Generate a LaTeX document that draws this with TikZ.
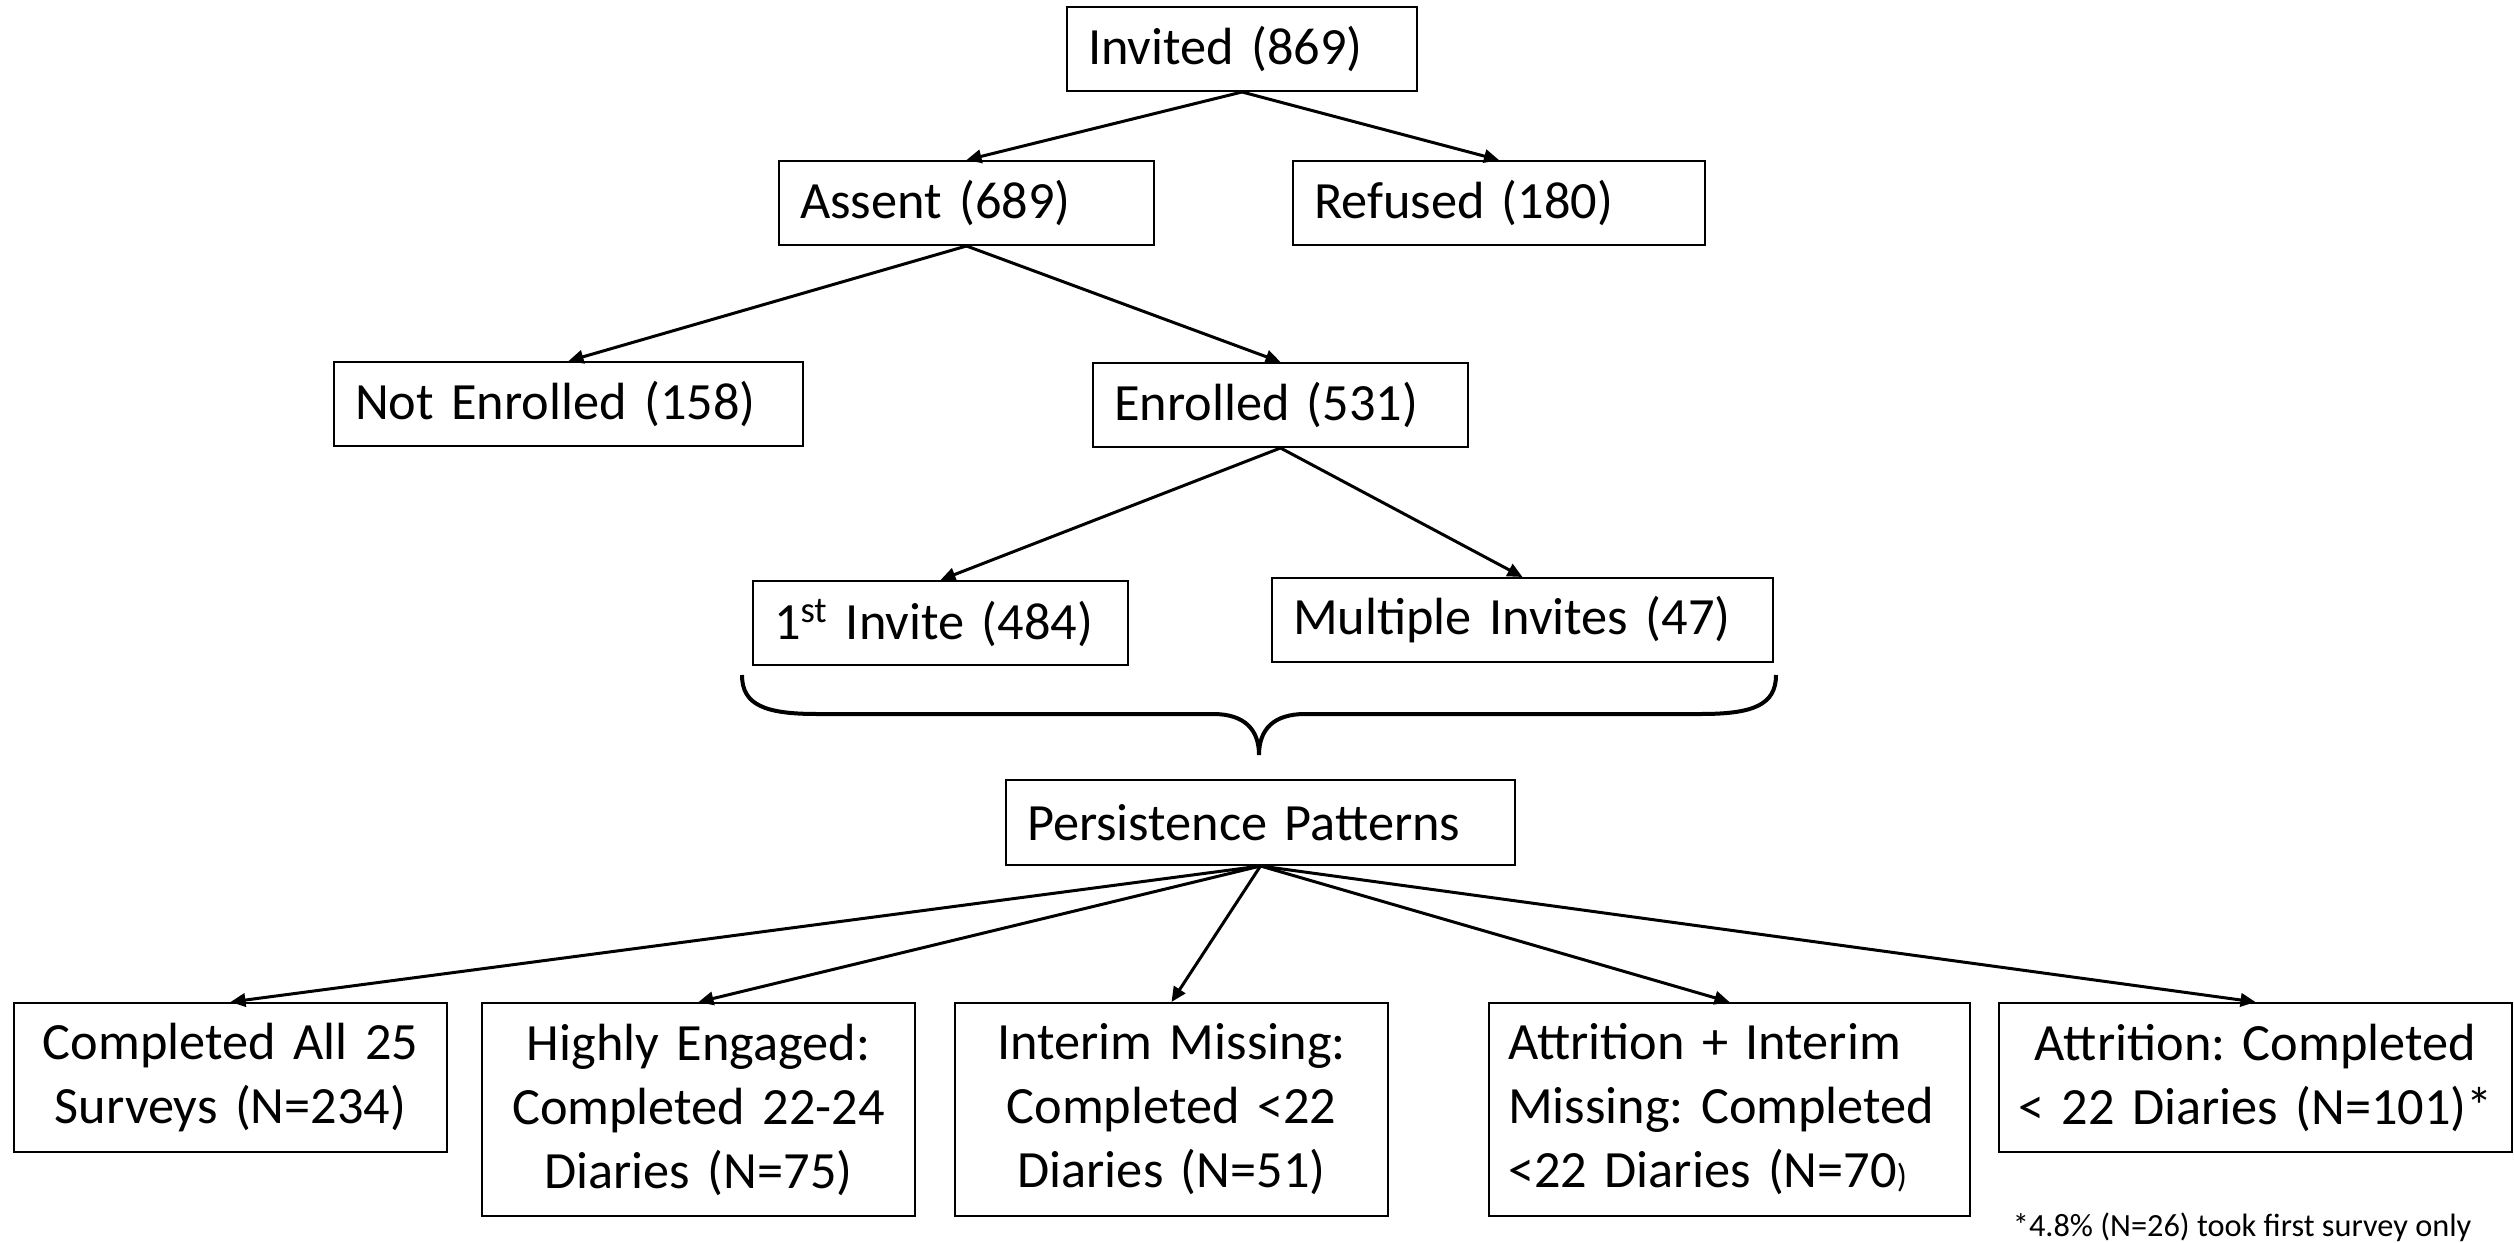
\documentclass[tikz,border=0pt]{standalone}
\usepackage{fontspec}
\setmainfont{Carlito}
\usetikzlibrary{arrows.meta}
\frenchspacing

\begin{document}
\begin{tikzpicture}[x=0.3pt, y=-0.3pt,
      font=\fontsize{15.7}{19.2}\selectfont,
      box/.style={draw, line width=0.6pt, inner xsep=6.3pt, inner ysep=0pt,
                  minimum height=25.2pt, align=left, anchor=north west},
      group/.style={draw, line width=0.6pt, inner xsep=0pt, inner ysep=0pt,
                    align=center, anchor=north west},
      flow/.style={draw, line width=0.9pt, -{Triangle[length=4.5pt, width=4pt]}}]
      \useasboundingbox (0, 0) rectangle (2514, 1243);
      \node (invited) [box, text width=92.4pt] at (1066, 6) {Invited (869)};
      \node (assent) [box, text width=99.9pt] at (778, 160) {Assent (689)};
      \node (refused) [box, text width=111pt] at (1292, 160) {Refused (180)};
      \node (notenr) [box, text width=128.1pt] at (333, 361) {Not Enrolled (158)};
      \node (enrolled) [box, text width=99.9pt] at (1092, 362) {Enrolled (531)};
      \node (first) [box, text width=99.9pt] at (752, 580) {1\textsuperscript{st} Invite (484)};
      \node (multi) [box, text width=137.7pt] at (1271, 577) {Multiple Invites (47)};
      \node (persist) [box, text width=140.1pt, minimum height=25.5pt] at (1005, 779) {Persistence Patterns};
      \node (all) [group, text width=129.9pt, minimum height=44.7pt] at (13, 1002)
            {Completed All 25\\Surveys (N=234)};
      \node (high) [group, text width=129.9pt, minimum height=63.9pt] at (481, 1002)
            {Highly Engaged:\\Completed 22-24\\Diaries (N=75)};
      \node (interim) [group, text width=129.9pt, minimum height=63.9pt] at (954, 1002)
            {Interim Missing:\\Completed <22\\Diaries (N=51)};
      \node (both) [group, align=left, inner xsep=5.7pt, text width=132.9pt, minimum height=63.9pt] at (1488, 1002)
            {Attrition + Interim\\Missing: Completed\\<22 Diaries (N=70{\fontsize{10}{12}\selectfont)}};
      \node (attr) [group, text width=153.9pt, minimum height=44.7pt] at (1998, 1002)
            {Attrition: Completed\\< 22 Diaries (N=101)*};
      \node (note) [anchor=base east, inner sep=0pt, font=\fontsize{9.7}{11}\selectfont] at (2472, 1236)
            {*4.8\% (N=26) took first survey only};
      \draw [line width=1.2pt] (742, 675) .. controls (742, 705) and (765, 714) .. (817, 714)
            -- (1213, 714) .. controls (1245, 714) and (1259, 730) .. (1259, 755)
            .. controls (1259, 730) and (1273, 714) .. (1305, 714)
            -- (1701, 714) .. controls (1753, 714) and (1776, 705) .. (1776, 675);
      \path (invited.south) edge [flow] (assent.north)
            (invited.south) edge [flow] (refused.north)
            (assent.south) edge [flow] (notenr.north)
            (assent.south) edge [flow] (enrolled.north)
            (enrolled.south) edge [flow] (first.north)
            (enrolled.south) edge [flow] (multi.north)
            (persist.south) edge [flow] (all.north)
            (persist.south) edge [flow] (high.north)
            (persist.south) edge [flow] (interim.north)
            (persist.south) edge [flow] (both.north)
            (persist.south) edge [flow] (attr.north);
\end{tikzpicture}
\end{document}
